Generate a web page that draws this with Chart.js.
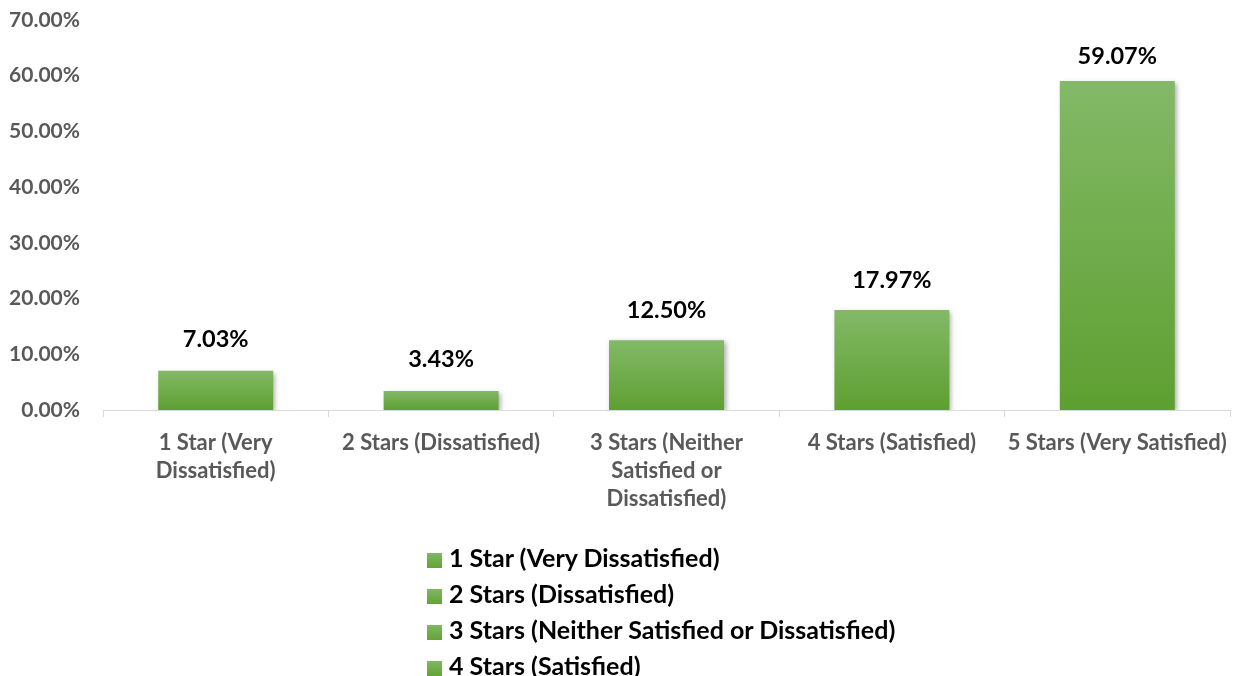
<!DOCTYPE html>
<html>
<head>
<meta charset="utf-8">
<script src="https://cdn.jsdelivr.net/npm/chart.js@4.4.1/dist/chart.umd.min.js"></script>
<style>
  html, body { margin: 0; padding: 0; background: #fff; overflow: hidden; }
  #wrap { position: relative; width: 1236px; height: 676px; }
  #legend {
    position: absolute; left: 427px; top: 539px;
    font-family: Lato, "Open Sans", sans-serif; font-weight: bold; font-size: 25px; color: #000;
  }
  #legend div { height: 36px; line-height: 36px; white-space: nowrap; }
  #legend span {
    display: inline-block; width: 15px; height: 15px; margin-right: 7px; vertical-align: -1px;
    background: linear-gradient(#80b862, #62a336);
  }
</style>
</head>
<body>
<div id="wrap">
  <canvas id="grafica" width="1236" height="676"></canvas>
  <div id="legend"></div>
</div>
<script>
// Datos de satisfacción (% de respuestas)
const categorias = [
    "1 Star (Very Dissatisfied)",
    "2 Stars (Dissatisfied)",
    "3 Stars (Neither Satisfied or Dissatisfied)",
    "4 Stars (Satisfied)",
    "5 Stars (Very Satisfied)",
];
const etiquetasEje = [
    ["1 Star (Very", "Dissatisfied)"],
    ["2 Stars (Dissatisfied)"],
    ["3 Stars (Neither", "Satisfied or", "Dissatisfied)"],
    ["4 Stars (Satisfied)"],
    ["5 Stars (Very Satisfied)"],
];
const porcentajes = [7.03, 3.43, 12.50, 17.97, 59.07];
const ticksY = [0, 10, 20, 30, 40, 50, 60, 70];

const FUENTE = "Lato, 'Open Sans', sans-serif";

// Degradado vertical por barra (claro arriba, oscuro abajo)
function colorBarra(context) {
    const chart = context.chart;
    const y = chart.scales && chart.scales.y;
    if (!chart.chartArea || !y || context.raw === undefined) return "#6aab3e";
    const top = y.getPixelForValue(context.raw);
    const base = y.getPixelForValue(0);
    const g = chart.ctx.createLinearGradient(0, top, 0, base);
    g.addColorStop(0, "#83b967");
    g.addColorStop(1, "#5e9f31");
    return g;
}

// Sombra bajo las barras y porcentaje encima de cada una
const pluginEtiquetas = {
    id: "etiquetas",
    beforeDatasetsDraw(chart) {
        const ctx = chart.ctx;
        ctx.save();
        ctx.shadowColor = "rgba(0,0,0,0.35)";
        ctx.shadowBlur = 5;
        ctx.shadowOffsetX = 2;
        ctx.shadowOffsetY = 2;
    },
    afterDatasetsDraw(chart) {
        const ctx = chart.ctx;
        ctx.restore();
        ctx.save();
        ctx.font = "bold 23.5px " + FUENTE;
        ctx.fillStyle = "#000";
        ctx.textAlign = "center";
        ctx.textBaseline = "middle";
        chart.getDatasetMeta(0).data.forEach((barra, i) => {
            const sep = 32 - 0.135 * porcentajes[i];
            ctx.fillText(porcentajes[i].toFixed(2) + "%", barra.x, barra.y - sep);
        });
        ctx.restore();
    },
};

const chart = new Chart(document.getElementById("grafica").getContext("2d"), {
    type: "bar",
    data: {
        labels: etiquetasEje,
        datasets: [
            {
                label: "Satisfacción",
                data: porcentajes,
                backgroundColor: colorBarra,
                borderWidth: 0,
                categoryPercentage: 1,
                barPercentage: 0.51,
            },
        ],
    },
    options: {
        responsive: false,
        animation: false,
        layout: { padding: { top: 0, right: 6, left: 0, bottom: 0 } },
        plugins: {
            legend: { display: false },
            tooltip: { enabled: false },
        },
        scales: {
            x: {
                grid: {
                    display: true,
                    drawOnChartArea: false,
                    drawTicks: true,
                    tickLength: 7,
                    color: "#d9d9d9",
                    offset: true,
                },
                border: { display: true, color: "#d9d9d9", width: 1 },
                ticks: {
                    autoSkip: false,
                    maxRotation: 0,
                    padding: 12,
                    color: "#595959",
                    font: { family: FUENTE, weight: "bold", size: 22, lineHeight: 1.27 },
                },
                afterFit(scale) {
                    scale.height = 266;
                    scale.paddingLeft = 0;
                    scale.paddingRight = 0;
                },
            },
            y: {
                min: 0,
                max: 70,
                grid: { display: false, drawTicks: false },
                border: { display: false },
                afterBuildTicks(scale) { scale.ticks = ticksY.map(v => ({ value: v })); },
                ticks: {
                    padding: 23,
                    color: "#595959",
                    font: { family: FUENTE, weight: "bold", size: 21 },
                    callback: v => v.toFixed(2) + "%",
                },
                afterFit(scale) {
                    scale.width = 103;
                    scale.paddingTop = 20;
                },
            },
        },
    },
    plugins: [pluginEtiquetas],
});

// Leyenda vertical con una entrada por categoría
const leyenda = document.getElementById("legend");
categorias.forEach(nombre => {
    const fila = document.createElement("div");
    fila.innerHTML = "<span></span>" + nombre;
    leyenda.appendChild(fila);
});
</script>
</body>
</html>
